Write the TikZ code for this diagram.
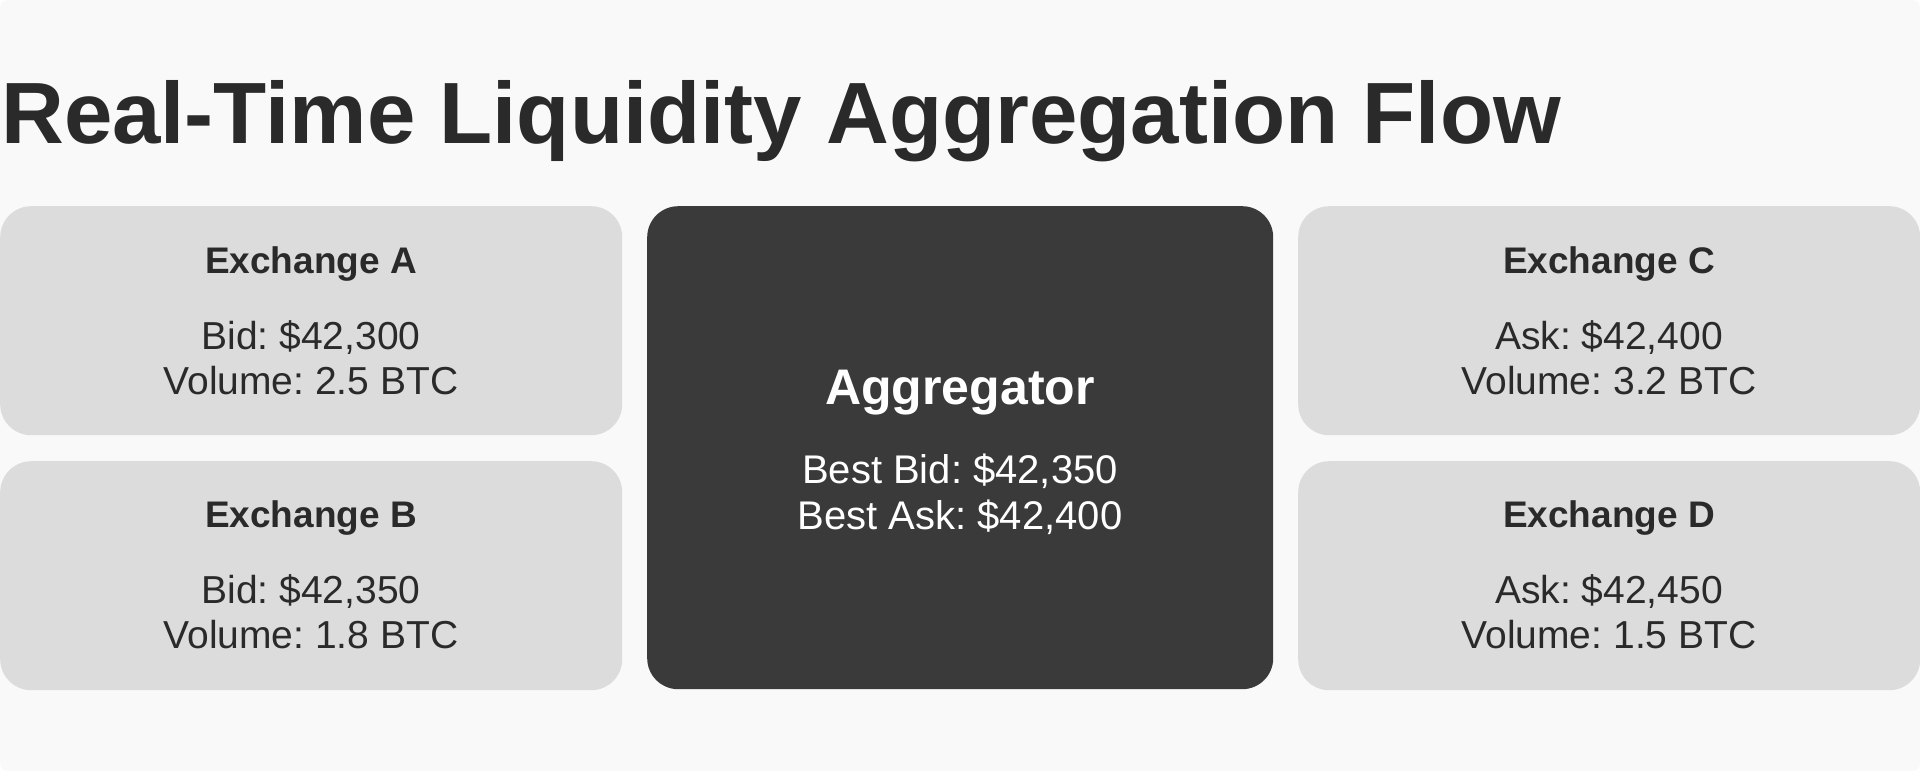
\documentclass[tikz,border=0pt]{standalone}
\usepackage{fontspec}
\setmainfont{Liberation Sans}
\frenchspacing
\definecolor{bgc}{HTML}{F9F9F9}
\definecolor{cardc}{HTML}{DCDCDC}
\definecolor{darkc}{HTML}{3A3A3A}
\definecolor{inkc}{HTML}{2A2A2A}
\tikzset{
  card/.style={fill=cardc, rounded corners=31pt, draw=none, minimum width=622pt, minimum height=229pt, inner sep=0pt, anchor=north west},
  hub/.style={fill=darkc, rounded corners=31pt, draw=none, minimum width=626pt, minimum height=483pt, inner sep=0pt, anchor=north west},
  head/.style={anchor=base, inner sep=0pt, text=inkc, font=\fontsize{37}{44}\selectfont\bfseries},
  body/.style={anchor=base, inner sep=0pt, text=inkc, font=\fontsize{39}{46}\selectfont},
  hubhead/.style={anchor=base, inner sep=0pt, text=white, font=\fontsize{50}{60}\selectfont\bfseries},
  hubbody/.style={anchor=base, inner sep=0pt, text=white, font=\fontsize{40}{48}\selectfont},
}
\begin{document}
\begin{tikzpicture}[x=1pt,y=-1pt]
\useasboundingbox (0,0) rectangle (1920,771);
\fill[white] (0,0) rectangle (1920,771);
\fill[bgc, rounded corners=8pt] (0,0) rectangle (1920,771);

\node[anchor=base west, inner sep=0pt, text=inkc, font=\fontsize{87}{100}\selectfont\bfseries] (title) at (1,143) {Real-Time Liquidity Aggregation Flow};

% boxes
\node[card] (exA) at (0,206) {};
\node[card] (exB) at (0,461) {};
\node[hub]  (agg) at (647,206) {};
\node[card] (exC) at (1298,206) {};
\node[card] (exD) at (1298,461) {};

% Exchange A
\node[head] (aT) at (311,273) {Exchange A};
\node[body] (a1) at (311,349) {Bid: \$42,300};
\node[body] (a2) at (311,394) {Volume: 2.5 BTC};
% Exchange B
\node[head] (bT) at (311,527) {Exchange B};
\node[body] (b1) at (311,603) {Bid: \$42,350};
\node[body] (b2) at (311,648) {Volume: 1.8 BTC};
% Aggregator
\node[hubhead] (gT) at (960,404) {Aggregator};
\node[hubbody] (g1) at (960,483) {Best Bid: \$42,350};
\node[hubbody] (g2) at (960,529) {Best Ask: \$42,400};
% Exchange C
\node[head] (cT) at (1609,273) {Exchange C};
\node[body] (c1) at (1609,349) {Ask: \$42,400};
\node[body] (c2) at (1609,394) {Volume: 3.2 BTC};
% Exchange D
\node[head] (dT) at (1609,527) {Exchange D};
\node[body] (d1) at (1609,603) {Ask: \$42,450};
\node[body] (d2) at (1609,648) {Volume: 1.5 BTC};
\end{tikzpicture}
\end{document}
